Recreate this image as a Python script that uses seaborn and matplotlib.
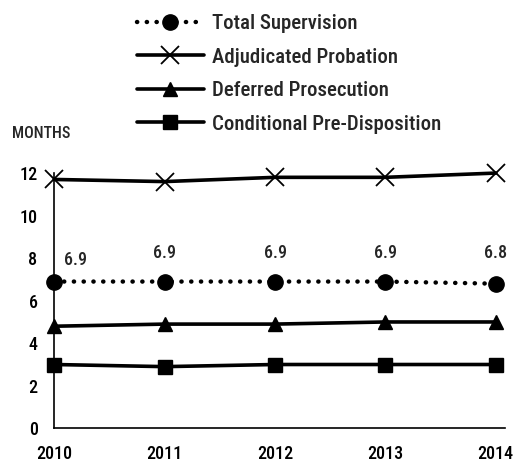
import matplotlib
matplotlib.use("Agg")
import matplotlib.pyplot as plt
import pandas as pd
import numpy as np
import seaborn as sns

# data
years = [2010, 2011, 2012, 2013, 2014]
total_supervision = [6.9, 6.9, 6.9, 6.9, 6.8]
adjudicated_probation = [11.7, 11.6, 11.8, 11.8, 12.0]
deferred_prosecution = [4.8, 4.9, 4.9, 5.0, 5.0]
conditional_pre_disposition = [3.0, 2.9, 3.0, 3.0, 3.0]
series_names = ["Total Supervision", "Adjudicated Probation",
                "Deferred Prosecution", "Conditional Pre-Disposition"]
y_ticks = [0, 2, 4, 6, 8, 10, 12]

sns.set_style("white")
plt.rcParams['font.family'] = ['Roboto Condensed', 'DejaVu Sans']
plt.rcParams['font.weight'] = 'medium'

df = pd.DataFrame({
    'year': years * 4,
    'months': total_supervision + adjudicated_probation + deferred_prosecution + conditional_pre_disposition,
    'series': sum([[s] * len(years) for s in series_names], []),
})

fig = plt.figure(figsize=(5.14, 4.62), dpi=100)
ax = fig.add_axes([0.1056, 0.0729, 0.877, 0.5755])

styles = {
    "Total Supervision": dict(marker='o', ms=11, ls=(0, (0.05, 2.15)), lw=3.2),
    "Adjudicated Probation": dict(marker='x', ms=13, ls='-', lw=2.6, mew=1.3),
    "Deferred Prosecution": dict(marker='^', ms=10.5, ls='-', lw=2.6),
    "Conditional Pre-Disposition": dict(marker='s', ms=10.5, ls='-', lw=2.6),
}

for name in series_names:
    sub = df[df['series'] == name]
    st = styles[name]
    sns.lineplot(data=sub, x='year', y='months', ax=ax, color='black', label=name,
                 marker=st['marker'], markersize=st['ms'],
                 linestyle=st['ls'], linewidth=st['lw'],
                 markeredgewidth=st.get('mew', 1.0), dash_capstyle='round',
                 markeredgecolor='black', clip_on=False)

# value labels for total supervision
for i, (x, v) in enumerate(zip(years, total_supervision)):
    if i == 0:
        ax.text(x + 0.19, v + 1.03, f"{v:.1f}", ha='center', va='center', fontsize=13)
    else:
        ax.text(x, 6.9 + 1.33, f"{v:.1f}", ha='center', va='center', fontsize=13)

ax.set_xlim(2010, 2014.084)
ax.set_ylim(0, 12.5)
ax.set_xticks(years)
ax.set_xticklabels([str(y) for y in years])
ax.set_yticks(y_ticks)
ax.set_xlabel("")
ax.set_ylabel("")
for s in ['top', 'right']:
    ax.spines[s].set_visible(False)
for s in ['left', 'bottom']:
    ax.spines[s].set_color('black')
    ax.spines[s].set_linewidth(1.2)
ax.spines['left'].set_bounds(0, 12)
ax.tick_params(axis='x', direction='inout', length=8, width=0.8, labelsize=13, pad=8, colors='black')
ax.tick_params(axis='y', direction='out', length=4, width=0.8, labelsize=13, pad=8, colors='black')

fig.text(12 / 514, 1 - 134 / 462, "MONTHS", fontsize=11.5, ha='left', va='center')

ax.legend(loc='upper left', bbox_to_anchor=(137 / 514, 1 - 14 / 462), bbox_transform=fig.transFigure,
          frameon=False, fontsize=15, handlelength=3.2, handletextpad=0.42,
          labelspacing=0.7, borderaxespad=0, borderpad=0)

fig.savefig("out.png", dpi=100)
